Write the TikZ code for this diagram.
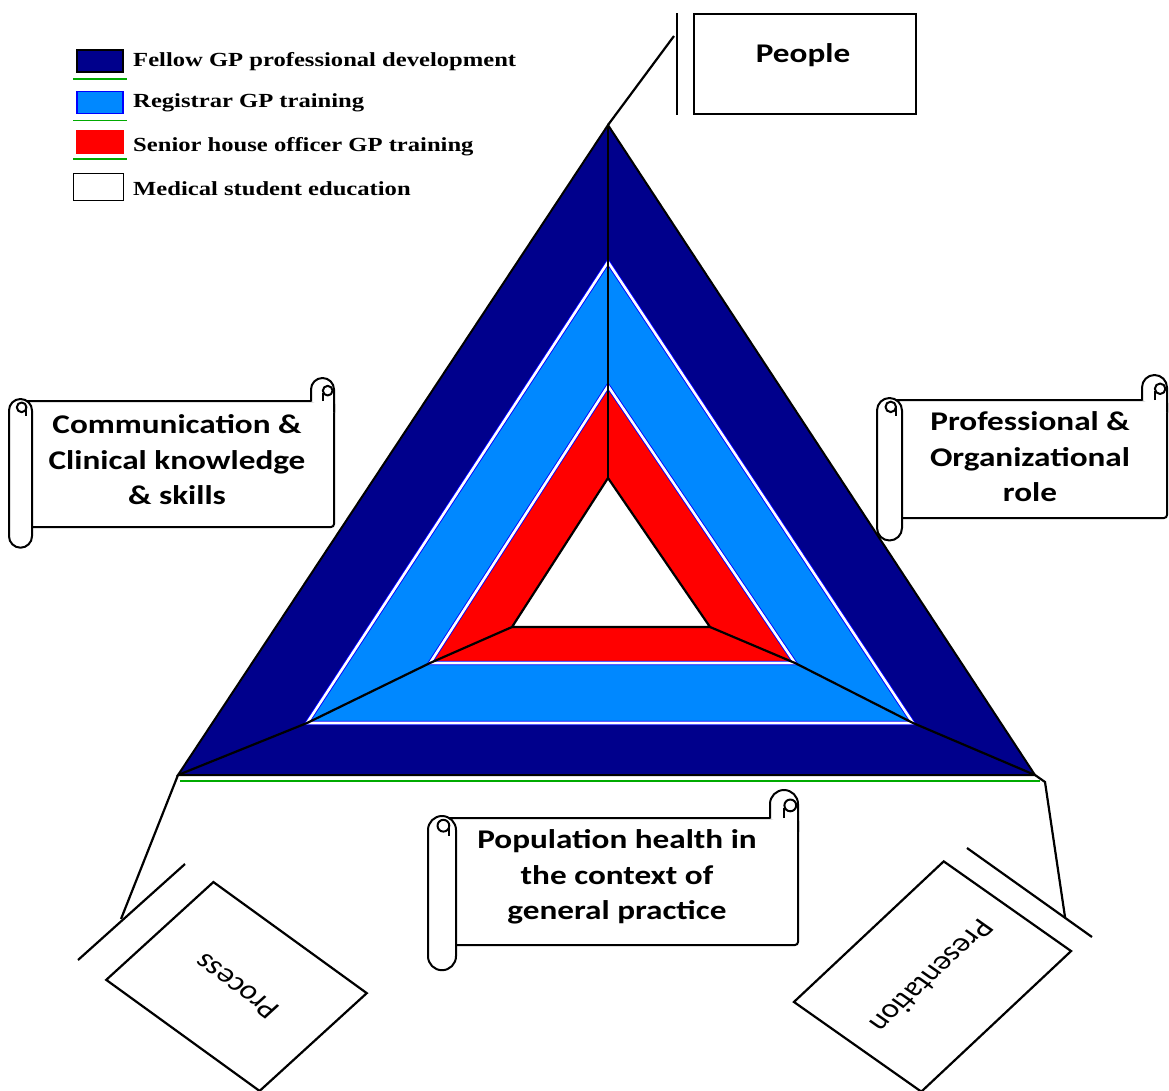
\documentclass[tikz,border=0pt]{standalone}
\usepackage{fontspec}
\newfontfamily\lblfont{Carlito}
\newfontfamily\legfont{Liberation Serif}
\definecolor{navyc}{RGB}{0,0,140}
\definecolor{skyc}{RGB}{0,136,255}
\definecolor{redc}{RGB}{255,0,0}
\definecolor{greenc}{RGB}{0,170,0}
\definecolor{edgeblue}{RGB}{0,0,255}
\tikzset{
  scrl/.style={draw=black, fill=white, line width=2pt, line join=round},
  lbl/.style={font=\lblfont\bfseries\fontsize{27}{35.5}\selectfont, align=center, xscale=1.23, inner sep=0pt},
  leg/.style={font=\legfont\bfseries\fontsize{20}{24}\selectfont, xscale=1.23, anchor=west, inner sep=0pt},
  swatch/.style={draw=black, line width=1.8pt, minimum width=46pt, minimum height=22pt, inner sep=0pt},
  gline/.style={draw=greenc, line width=1.6pt},
  conn/.style={draw=black, line width=2.2pt},
  band/.style={draw=edgeblue, double=white, double distance=2.6pt, line width=0.9pt},
  divider/.style={draw=black, line width=2.2pt},
  tilted/.style={draw=black, line width=2.2pt, fill=white, font=\lblfont\fontsize{27}{32}\selectfont, inner sep=0pt},
}
\newcommand\scrollbox[5]{%
  \pgfmathsetmacro\sH{#5/2}%
  \pgfmathsetmacro\sD{#5}%
  \filldraw[scrl, rounded corners=3pt] ({#1+\sH},#2) -- (#3,#2) -- (#3,#4) -- ({#1+\sH},#4) -- cycle;
  \filldraw[scrl, rounded corners=\sH pt] ({#3-\sD},#2) -- ({#3-\sD},{#2-\sD}) -- (#3,{#2-\sD}) -- (#3,{#2+\sH});
  \draw[scrl, fill=none] ({#3-\sH},#2) -- ({#3-\sH},{#2-\sH*0.7});
  \draw[scrl, fill=none] ({#3-\sH*0.55},{#2-\sH*0.9}) circle[radius={\sH*0.42}];
  \filldraw[scrl, rounded corners=\sH pt] (#1,{#2-2}) -- (#1,{#4+\sD*0.9}) -- ({#1+\sD},{#4+\sD*0.9}) -- ({#1+\sD},{#2-2}) -- cycle;
  \draw[scrl, fill=none] ({#1+\sH*1.1},{#2+\sH*0.55}) circle[radius={\sH*0.42}];
  \draw[scrl, fill=none] ({#1+\sH*1.5},{#2+\sH*0.55}) -- ({#1+\sH*1.5},{#2+\sH*1.3});
}
\begin{document}
\begin{tikzpicture}[x=1pt, y=-1pt]
\useasboundingbox (0,0) rectangle (1169,1090);
\fill[white] (0,0) rectangle (1169,1090);

% triangle vertices
\coordinate (A0) at (608,125);
\coordinate (B0) at (178,775);
\coordinate (C0) at (1035,775);
\coordinate (A1) at (608,262);
\coordinate (B1) at (307,723);
\coordinate (C1) at (913,723);
\coordinate (A2) at (608,386);
\coordinate (B2) at (430,663);
\coordinate (C2) at (795,663);
\coordinate (A3) at (608,478);
\coordinate (B3) at (512,627);
\coordinate (C3) at (710,627);

\filldraw[fill=navyc, draw=black, line width=2pt] (A0) -- (B0) -- (C0) -- cycle;
\fill[skyc] (A1) -- (B1) -- (C1) -- cycle;
\draw[band] (A1) -- (B1) -- (C1) -- cycle;
\fill[redc] (A2) -- (B2) -- (C2) -- cycle;
\draw[band] (A2) -- (B2) -- (C2) -- cycle;
\filldraw[fill=white, draw=black, line width=2.2pt] (A3) -- (B3) -- (C3) -- cycle;
\draw[divider] (A0) -- (A3);
\draw[divider] (B0) -- (B1) -- (B2) -- (B3);
\draw[divider] (C0) -- (C1) -- (C2) -- (C3);

\coordinate (g1) at (180,781);
\coordinate (g2) at (1040,781);
\draw[gline] (g1) -- (g2);

% legend
\node[swatch, fill=navyc] (s1) at (100,61) {};
\node[swatch, fill=skyc, draw=edgeblue] (s2) at (100,102.5) {};
\node[swatch, fill=redc, draw=redc] (s3) at (100,142) {};
\node[swatch, fill=white, minimum width=50pt, minimum height=27pt] (s4) at (98.5,187) {};
\draw[gline] ([xshift=-3pt,yshift=-6pt]s1.south west) -- ([xshift=3pt,yshift=-6pt]s1.south east);
\draw[gline] ([xshift=-3pt,yshift=-6pt]s2.south west) -- ([xshift=3pt,yshift=-6pt]s2.south east);
\draw[gline] ([xshift=-3pt,yshift=-5pt]s3.south west) -- ([xshift=3pt,yshift=-5pt]s3.south east);
\node[leg] (t1) at (133,62) {Fellow GP professional development};
\node[leg] (t2) at (133,103) {Registrar GP training};
\node[leg] (t3) at (133,147) {Senior house officer GP training};
\node[leg] (t4) at (133,189) {Medical student education};

% People
\node[draw, line width=2.2pt, minimum width=222pt, minimum height=100pt, inner sep=0pt] (people) at (805,64) {};
\node[lbl] (peopletxt) at (803,55) {People};
\coordinate (pw1) at (677,13);
\coordinate (pw2) at (677,115);
\coordinate (pc) at (674,36);
\draw[conn] (pw1) -- (pw2);
\draw[conn] (A0) -- (pc);

% scrolls
\scrollbox{9}{401}{334}{527}{23}
\node[lbl] (comm) at (177,460) {Communication \&\\Clinical knowledge\\\& skills};
\scrollbox{877}{400}{1167}{518}{25}
\node[lbl] (prof) at (1030,457) {Professional \&\\Organizational\\role};
\scrollbox{428}{818}{798}{945}{28}
\node[lbl] (popul) at (617,877) {Population health in\\the context of\\general practice};

% Process
\coordinate (ww1) at (78,960);
\coordinate (ww2) at (185,864);
\coordinate (pcp) at (121,919);
\draw[conn] (ww1) -- (ww2);
\draw[conn] (B0) -- (pcp);
\node[tilted, xscale=1.23, rotate=138.3, minimum width=167pt, minimum height=131pt] (process) at (236.5,986.5) {Process};

% Presentation
\coordinate (wp1) at (967,848);
\coordinate (wp2) at (1092,937);
\coordinate (pk) at (1045,782);
\coordinate (pcr) at (1065,917);
\draw[conn] (wp1) -- (wp2);
\draw[conn] (C0) -- (pk) -- (pcr);
\node[tilted, xscale=1.23, rotate=229.1, minimum width=186pt, minimum height=137pt] (present) at (932.5,976.5) {Presentation};
\end{tikzpicture}
\end{document}
